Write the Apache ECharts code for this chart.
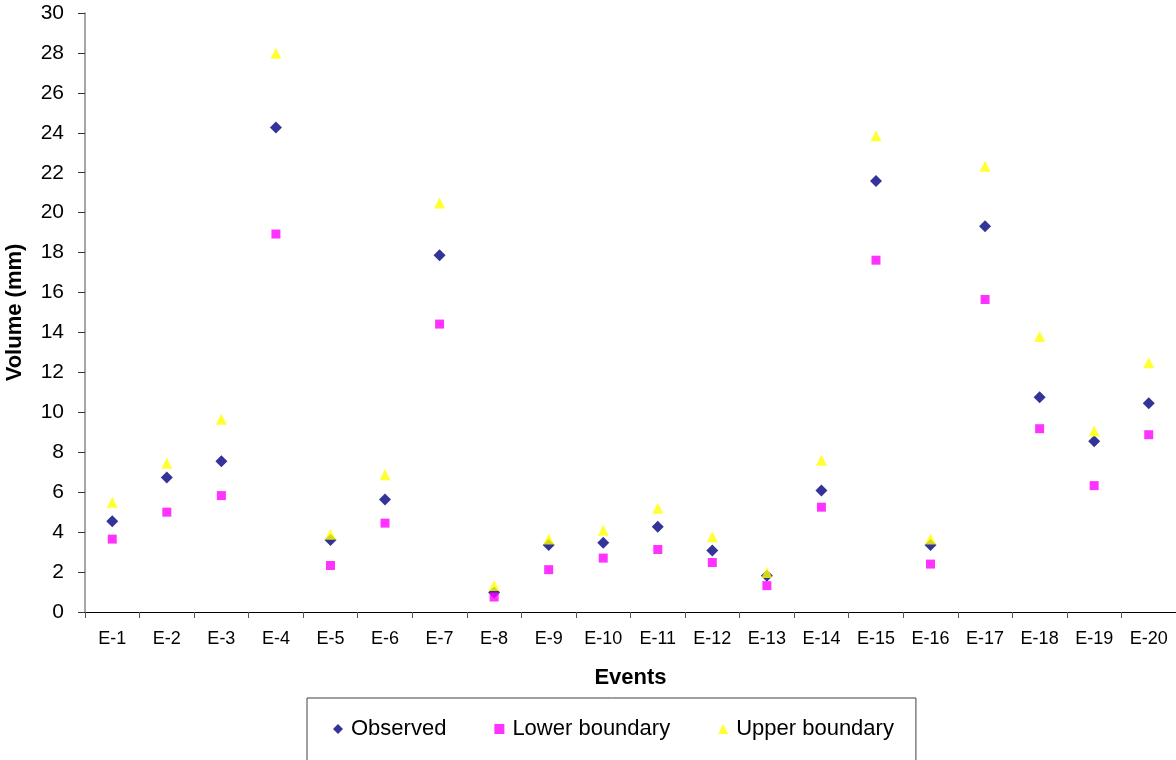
<!DOCTYPE html>
<html>
<head>
<meta charset="utf-8">
<title>Observed volume and boundaries per event</title>
<script src="https://cdn.jsdelivr.net/npm/echarts@6/dist/echarts.min.js"></script>
<style>
  html, body { margin: 0; padding: 0; background: #ffffff; }
  #chart { width: 1176px; height: 760px; }
</style>
</head>
<body>
<div id="chart"></div>
<script>
// Event names along the x axis
const events = ['E-1', 'E-2', 'E-3', 'E-4', 'E-5', 'E-6', 'E-7', 'E-8', 'E-9', 'E-10',
                'E-11', 'E-12', 'E-13', 'E-14', 'E-15', 'E-16', 'E-17', 'E-18', 'E-19', 'E-20'];

// Volumes (mm) per event
const observed = [4.55, 6.73, 7.55, 24.27, 3.6, 5.63, 17.87, 0.98, 3.35, 3.47,
                  4.27, 3.08, 1.82, 6.08, 21.58, 3.35, 19.32, 10.75, 8.55, 10.45];
const lowerBoundary = [3.65, 5.0, 5.83, 18.93, 2.33, 4.45, 14.42, 0.75, 2.12, 2.7,
                       3.13, 2.48, 1.32, 5.25, 17.62, 2.4, 15.65, 9.18, 6.33, 8.88];
const upperBoundary = [5.5, 7.45, 9.65, 27.98, 3.9, 6.88, 20.48, 1.33, 3.65, 4.1,
                       5.2, 3.77, 1.98, 7.6, 23.85, 3.65, 22.32, 13.8, 9.07, 12.48];

// Value axis range
const yMin = 0;
const yMax = 30;
const yStep = 2;

const FONT = '"Liberation Sans", Arial, Helvetica, sans-serif';

const chart = echarts.init(document.getElementById('chart'), null, { renderer: 'canvas' });

chart.setOption({
  animation: false,
  backgroundColor: '#ffffff',
  textStyle: { fontFamily: FONT, color: '#000' },
  grid: { left: 85, right: 0, top: 13, bottom: 148, containLabel: false, outerBoundsMode: 'none' },
  legend: {
    left: 307,
    top: 698,
    orient: 'horizontal',
    padding: [20, 22, 40, 26],
    itemGap: 48,
    itemWidth: 10,
    itemHeight: 10,
    borderColor: '#404040',
    borderWidth: 1,
    backgroundColor: '#ffffff',
    textStyle: { fontFamily: FONT, fontSize: 22, color: '#000', padding: [0, 0, 0, 3] },
    data: ['Observed', 'Lower boundary', 'Upper boundary']
  },
  xAxis: {
    type: 'category',
    data: events,
    boundaryGap: true,
    name: 'Events',
    nameLocation: 'middle',
    nameGap: 55,
    nameTextStyle: { fontFamily: FONT, fontSize: 22, fontWeight: 'bold', color: '#000' },
    axisLine: { lineStyle: { color: '#000', width: 1 } },
    axisTick: { show: true, length: 6, alignWithLabel: false, lineStyle: { color: '#555' } },
    axisLabel: { fontFamily: FONT, fontSize: 18, color: '#000', margin: 18, interval: 0 },
    splitLine: { show: false }
  },
  yAxis: {
    type: 'value',
    min: yMin,
    max: yMax,
    interval: yStep,
    name: 'Volume (mm)',
    nameLocation: 'middle',
    nameGap: 59,
    nameTextStyle: { fontFamily: FONT, fontSize: 22, fontWeight: 'bold', color: '#000' },
    axisLine: { show: true, lineStyle: { color: '#888', width: 1.5 } },
    axisTick: { show: true, length: 7, lineStyle: { color: '#333' } },
    axisLabel: { fontFamily: FONT, fontSize: 21, color: '#000', margin: 21 },
    splitLine: { show: false }
  },
  series: [
    {
      name: 'Observed',
      type: 'scatter',
      data: observed,
      symbol: 'diamond',
      symbolSize: 12,
      itemStyle: { color: '#000080' }
    },
    {
      name: 'Lower boundary',
      type: 'scatter',
      data: lowerBoundary,
      symbol: 'rect',
      symbolSize: 9,
      itemStyle: { color: '#ff00ff' }
    },
    {
      name: 'Upper boundary',
      type: 'scatter',
      data: upperBoundary,
      symbol: 'triangle',
      symbolSize: 11,
      itemStyle: { color: '#ffff00' }
    }
  ]
});
</script>
</body>
</html>
